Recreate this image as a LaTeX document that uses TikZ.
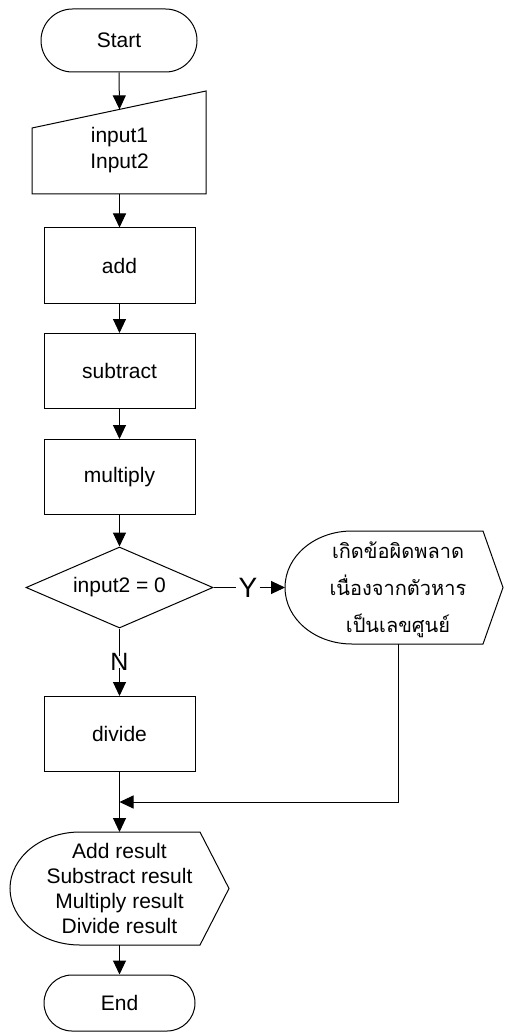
\documentclass[tikz,border=0pt]{standalone}
\usepackage{fontspec}
\setmainfont{Liberation Sans}
\newfontfamily\thaifont[Script=Thai]{Loma}
\usetikzlibrary{arrows.meta,shapes.misc,shapes.geometric}
\begin{document}
\begin{tikzpicture}[x=1pt,y=-1pt,
  every node/.style={font=\fontsize{21}{25.3}\selectfont, inner sep=0pt, align=center},
  line/.style={draw=black, line width=1pt},
  arr/.style={line, -{Triangle[width=13pt,length=14pt]}},
  procbox/.style={line, rectangle, minimum width=151pt, minimum height=75pt},
  term/.style={line, rounded rectangle},
  lbl/.style={font=\fontsize{28}{28}\selectfont}]
\useasboundingbox (0,0) rectangle (504,1032);

% Start
\node[term, minimum width=156pt, minimum height=63pt] (start) at (119,40.5) {Start};

% Input (manual input shape)
\draw[line] (32,128) -- (206,91) -- (206,194) -- (32,194) -- cycle;
\coordinate (intop) at (119.5,109.4);
\coordinate (inbot) at (119.5,194);
\node (in) at (119.5,150) {input1\\Input2};

% Process boxes
\node[procbox] (add) at (119.5,265.5) {add};
\node[procbox] (sub) at (119.5,371) {subtract};
\node[procbox] (mul) at (119.5,477) {multiply};

% Decision
\node[line, diamond, aspect=2.31, minimum width=187pt, minimum height=81pt] (dec) at (119.5,587.5) {input2 = 0};

% Divide
\node[procbox] (div) at (119.5,734) {divide};

% Error display shape
\draw[line] (352,531) -- (483,531) -- (503,587.5) -- (483,644) -- (352,644)
  .. controls (315,644) and (285,619) .. (285,587.5)
  .. controls (285,556) and (315,531) .. (352,531) -- cycle;
\coordinate (errleft) at (285,587.5);
\coordinate (errbot) at (398,644);
\node[font=\thaifont\fontsize{20}{37}\selectfont] (err) at (398,590) {เกิดข้อผิดพลาด\\เนื่องจากตัวหาร\\เป็นเลขศูนย์};

% Output display shape
\draw[line] (80,832) -- (200,832) -- (229,888.5) -- (200,945) -- (80,945)
  .. controls (41.3,945) and (10,919.7) .. (10,888.5)
  .. controls (10,857.3) and (41.3,832) .. (80,832) -- cycle;
\coordinate (outtop) at (119.5,832);
\coordinate (outbot) at (119.5,945);
\node (out) at (119.5,888.5) {Add result\\Substract result\\Multiply result\\Divide result};

% End
\node[term, minimum width=151pt, minimum height=56pt] (end) at (119.5,1003) {End};

% Labels
\node[lbl] (ylab) at (248,587.5) {Y};
\node[lbl, font=\fontsize{25}{25}\selectfont] (nlab) at (119.5,662) {N};

% Connectors
\draw[arr] (start.south) -- (intop);
\draw[arr] (inbot) -- (add.north);
\draw[arr] (add.south) -- (sub.north);
\draw[arr] (sub.south) -- (mul.north);
\draw[arr] (mul.south) -- (dec.north);
\draw[line] (dec.east) -- ([xshift=-2pt]ylab.west);
\draw[arr] ([xshift=2pt]ylab.east) -- (errleft);
\draw[line] (dec.south) -- ([yshift=-3pt]nlab.north);
\draw[arr] ([yshift=3pt]nlab.south) -- (div.north);
\coordinate (merge) at (119.5,802);
\draw[arr] (errbot) |- (merge);
\draw[arr] (div.south) -- (outtop);
\draw[arr] (outbot) -- (end.north);
\end{tikzpicture}
\end{document}
